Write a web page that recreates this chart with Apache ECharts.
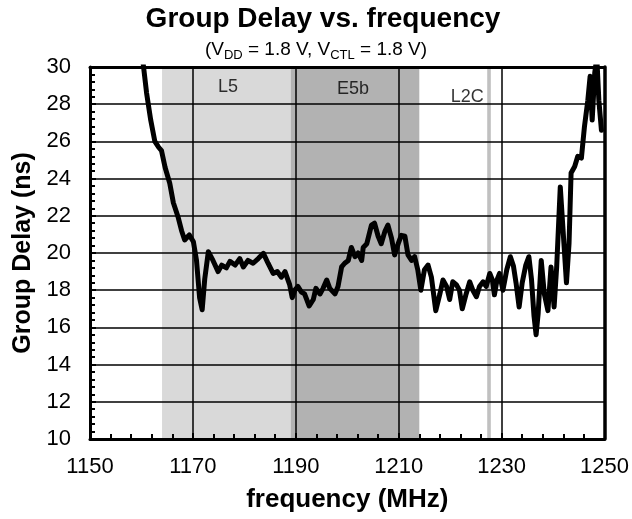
<!DOCTYPE html>
<html lang="en" style="height: 100%">
<head>
  <meta charset="utf-8">
</head>
<body style="height: 100%; margin: 0">
  <div id="container" style="width: 632px; height: 519px"></div>

  <script type="text/javascript" src="https://cdn.jsdelivr.net/npm/echarts@6/dist/echarts.min.js"></script>

  <script type="text/javascript">
    var freqMHz = [
      1160.2, 1161.0, 1161.8, 1162.6, 1163.3, 1163.9, 1164.6, 1165.5, 1166.2, 1167.1,
      1167.8, 1168.4, 1169.3, 1170.1, 1170.7, 1171.3, 1171.8, 1172.3, 1173.0, 1173.9,
      1174.9, 1175.6, 1176.5, 1177.2, 1178.2, 1179.1, 1179.8, 1180.7, 1181.7, 1182.7,
      1183.7, 1184.6, 1185.6, 1186.4, 1187.2, 1187.9, 1188.8, 1189.3, 1189.8, 1190.4,
      1191.1, 1191.7, 1192.6, 1193.4, 1193.9, 1194.7, 1195.3, 1196.0, 1196.6, 1197.6,
      1198.2, 1198.9, 1199.5, 1200.2, 1200.8, 1201.5, 1202.1, 1202.8, 1203.1, 1203.8,
      1204.7, 1205.3, 1206.0, 1206.6, 1207.3, 1207.9, 1208.6, 1209.2, 1209.9, 1210.5,
      1211.2, 1211.8, 1212.5, 1213.1, 1213.7, 1214.3, 1215.0, 1215.7, 1216.35, 1217.2,
      1218.0, 1218.6, 1219.3, 1219.9, 1220.5, 1221.2, 1221.8, 1222.35, 1223.1, 1223.8,
      1224.4, 1225.1, 1225.7, 1226.4, 1227.0, 1227.7, 1228.2, 1228.6, 1229.1, 1229.6,
      1230.25, 1231.0, 1231.7, 1232.3, 1232.8, 1233.4, 1234.0, 1234.7, 1235.3, 1235.8,
      1236.3, 1236.7, 1237.1, 1237.7, 1238.3, 1239.0, 1239.6, 1240.2, 1240.7, 1241.4,
      1241.9, 1242.6, 1243.1, 1243.5, 1244.2, 1244.8, 1245.5, 1246.1, 1246.75, 1247.2,
      1247.6, 1248.1, 1248.5, 1248.9, 1249.4
    ];
    var delayNs = [
      30.5, 28.6, 27.15, 26.0, 25.7, 25.5, 24.6, 23.75, 22.7, 21.95,
      21.2, 20.7, 20.97, 20.6, 19.6, 17.6, 16.95, 18.6, 20.07, 19.6,
      19.0, 19.35, 19.2, 19.55, 19.35, 19.7, 19.25, 19.6, 19.45, 19.7,
      19.98, 19.45, 18.9, 19.0, 18.7, 19.0, 18.3, 17.6, 18.0, 18.2,
      17.9, 17.8, 17.15, 17.5, 18.1, 17.8, 18.1, 18.55, 18.1, 17.8,
      18.2, 19.25, 19.45, 19.6, 20.3, 19.8, 20.0, 19.6, 20.3, 20.5,
      21.5, 21.6, 20.9, 20.5, 21.15, 21.5, 20.8, 19.9, 20.5, 20.95,
      20.9, 19.9, 19.6, 19.8, 19.1, 18.0, 19.1, 19.35, 18.7, 16.9,
      17.8, 18.55, 18.2, 17.5, 18.45, 18.3, 18.0, 17.0, 17.8, 18.45,
      18.0, 17.65, 18.2, 18.45, 18.2, 18.9, 18.55, 17.75, 18.55, 18.9,
      18.0, 19.1, 19.8, 19.3, 18.4, 17.1, 18.4, 19.35, 19.8, 18.6,
      16.6, 15.6, 16.75, 19.6, 17.8, 16.9, 19.25, 17.1, 19.25, 23.55,
      21.4, 18.4, 20.5, 24.3, 24.65, 25.2, 25.1, 26.8, 28.2, 29.5,
      27.15, 29.7, 30.5, 28.2, 26.6
    ];

    // frequency bands
    var bandNames = ['L5', 'E5b', 'L2C'];
    var bandStart = [1164, 1189, 1227.2];
    var bandEnd = [1189, 1214, 1227.9];
    var labelFreq = [1176.8, 1201.1, 1223.3];
    var labelDelay = [28.9, 28.8, 28.4];

    var bandColors = ['#d9d9d9', '#b2b2b2', '#c0c0c0'];
    var FONT = "'Liberation Sans', Arial, sans-serif";

    var curve = freqMHz.map(function (f, i) { return [f, delayNs[i]]; });
    var bands = bandNames.map(function (n, i) { return [bandStart[i], bandEnd[i], i]; });
    var labels = bandNames.map(function (n, i) { return [labelFreq[i], labelDelay[i], n]; });

    var dom = document.getElementById('container');
    var myChart = echarts.init(dom, null, { renderer: 'canvas' });

    var plain = function (v) { return String(v); };

    var option = {
      animation: false,
      title: [
        {
          text: 'Group Delay vs. frequency',
          left: 318, top: 0, textAlign: 'center',
          textStyle: { fontFamily: FONT, fontSize: 28, fontWeight: 'bold', color: '#000' }
        },
        {
          text: '(V{s|DD} = 1.8 V, V{s|CTL} = 1.8 V)',
          left: 311, top: 33, textAlign: 'center',
          textStyle: {
            fontFamily: FONT, fontSize: 19, fontWeight: 'normal', color: '#000', lineHeight: 24,
            rich: { s: { fontFamily: FONT, fontSize: 13, lineHeight: 13, verticalAlign: 'bottom', color: '#000' } }
          }
        }
      ],
      grid: { left: 90, right: 27, top: 67, bottom: 80 },
      xAxis: [
        {
          type: 'value', min: 1150, max: 1250, interval: 20, z: 2,
          name: 'frequency (MHz)', nameLocation: 'middle', nameGap: 48,
          nameTextStyle: { fontFamily: FONT, fontSize: 26, fontWeight: 'bold', color: '#000' },
          axisLine: { lineStyle: { color: '#000', width: 3 } },
          axisTick: { show: true, inside: true, length: 6, lineStyle: { color: '#000', width: 2 } },
          minorTick: { show: true, splitNumber: 5, length: 5, lineStyle: { color: '#000', width: 2 } },
          axisLabel: { fontFamily: FONT, fontSize: 22, color: '#000', margin: 17, formatter: plain },
          splitLine: { show: true, lineStyle: { color: '#000', width: 1.5 } }
        },
        {
          type: 'value', position: 'top', min: 1150, max: 1250, z: 4,
          axisLine: { show: true, onZero: false, lineStyle: { color: '#000', width: 3 } },
          axisTick: { show: false }, axisLabel: { show: false }, splitLine: { show: false }
        }
      ],
      yAxis: [
        {
          type: 'value', min: 10, max: 30, interval: 2, z: 2,
          name: 'Group Delay (ns)', nameLocation: 'middle', nameGap: 54,
          nameTextStyle: { fontFamily: FONT, fontSize: 25, fontWeight: 'bold', color: '#000' },
          axisLine: { show: true, lineStyle: { color: '#000', width: 3 } },
          axisTick: { show: true, inside: true, length: 6, lineStyle: { color: '#000', width: 2 } },
          minorTick: { show: true, splitNumber: 5, length: 5, lineStyle: { color: '#000', width: 2 } },
          axisLabel: { fontFamily: FONT, fontSize: 22, color: '#000', margin: 19, formatter: plain },
          splitLine: { show: true, lineStyle: { color: '#000', width: 1.5 } }
        },
        {
          type: 'value', position: 'right', min: 10, max: 30, z: 4,
          axisLine: { show: true, onZero: false, lineStyle: { color: '#000', width: 3.5 } },
          axisTick: { show: false }, axisLabel: { show: false }, splitLine: { show: false }
        }
      ],
      series: [
        {
          type: 'custom', z: 1, silent: true,
          data: bands,
          encode: { x: [0, 1] },
          renderItem: function (params, api) {
            var p0 = api.coord([api.value(0), 30]);
            var p1 = api.coord([api.value(1), 10]);
            return {
              type: 'rect',
              shape: { x: p0[0], y: p0[1], width: p1[0] - p0[0], height: p1[1] - p0[1] },
              style: { fill: bandColors[api.value(2)] }
            };
          }
        },
        {
          type: 'scatter', z: 3, silent: true,
          data: labels, symbolSize: 0,
          label: {
            show: true, position: 'inside',
            formatter: function (p) { return p.data[2]; },
            fontFamily: FONT, fontSize: 18, color: '#000'
          }
        },
        {
          type: 'line', z: 3, data: curve, showSymbol: false, smooth: false, clip: true,
          lineStyle: { color: '#000', width: 5, cap: 'round', join: 'round' }
        }
      ]
    };

    myChart.setOption(option);
    window.addEventListener('resize', myChart.resize);
  </script>
</body>
</html>
